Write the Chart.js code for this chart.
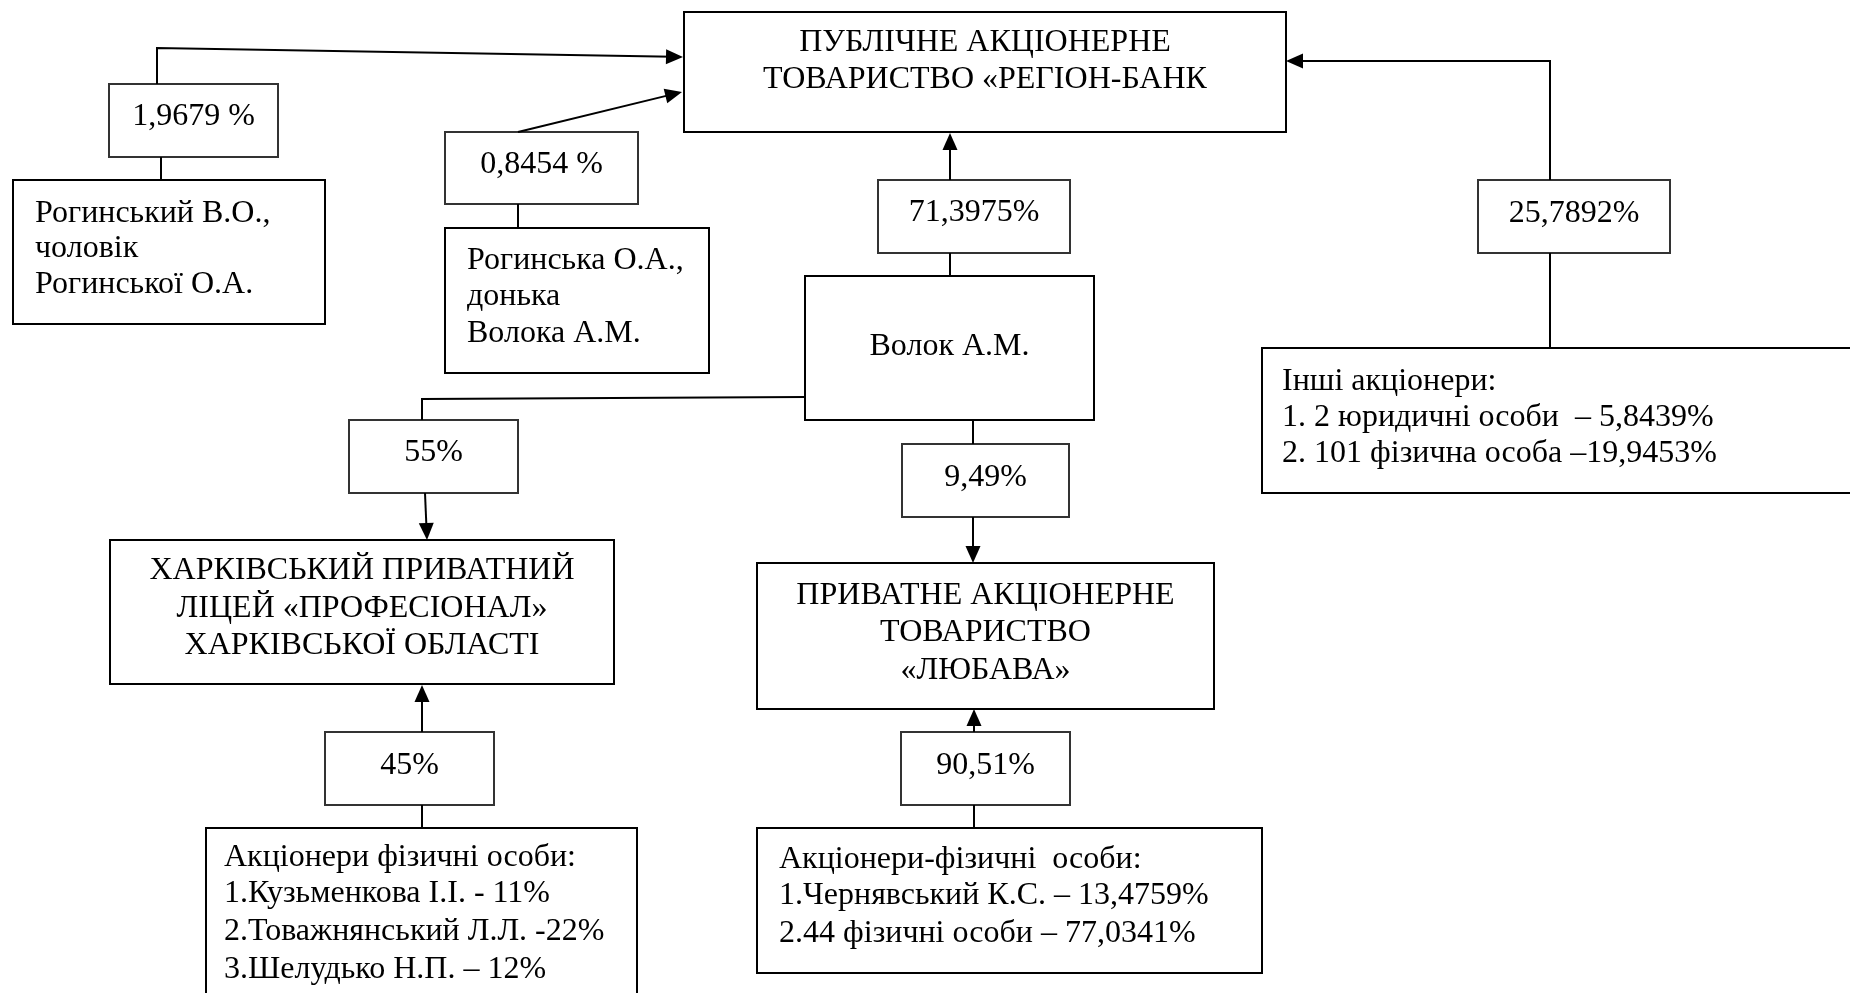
<!DOCTYPE html>
<html>
<head>
<meta charset="utf-8">
<script src="https://cdn.jsdelivr.net/npm/chart.js@4/dist/chart.umd.min.js"></script>
<style>
html,body{margin:0;padding:0;background:#fff;}
#wrap{width:1850px;height:993px;position:relative;}
</style>
</head>
<body>
<div id="wrap"><canvas id="c"></canvas></div>
<script>
// ---- content (text values) ----
const bankName = ['ПУБЛІЧНЕ АКЦІОНЕРНЕ', 'ТОВАРИСТВО «РЕГІОН-БАНК'];
const husbandName = ['Рогинський В.О.,', 'чоловік', 'Рогинської О.А.'];
const daughterName = ['Рогинська О.А.,', 'донька', 'Волока А.М.'];
const ownerName = ['Волок А.М.'];
const otherHolders = ['Інші акціонери:', '1. 2 юридичні особи  – 5,8439%', '2. 101 фізична особа –19,9453%'];
const lyceumName = ['ХАРКІВСЬКИЙ ПРИВАТНИЙ', 'ЛІЦЕЙ «ПРОФЕСІОНАЛ»', 'ХАРКІВСЬКОЇ ОБЛАСТІ'];
const lyubavaName = ['ПРИВАТНЕ АКЦІОНЕРНЕ', 'ТОВАРИСТВО', '«ЛЮБАВА»'];
const lyceumHolders = ['Акціонери фізичні особи:', '1.Кузьменкова І.І. - 11%', '2.Товажнянський Л.Л. -22%', '3.Шелудько Н.П. – 12%'];
const lyubavaHolders = ['Акціонери-фізичні  особи:', '1.Чернявський К.С. – 13,4759%', '2.44 фізичні особи – 77,0341%'];
const stakeLabels = ['1,9679 %', '0,8454 %', '71,3975%', '25,7892%', '55%', '9,49%', '45%', '90,51%'];

// ---- layout (diagram coordinates, mapped through the chart scales) ----
const entityLayout = [
  {lines: bankName,       r: [684, 12, 1286, 132],  align: 'center', ty: [43, 80]},
  {lines: husbandName,    r: [13, 180, 325, 324],   align: 'left', tx: 35,  ty: [214, 249, 285]},
  {lines: daughterName,   r: [445, 228, 709, 373],  align: 'left', tx: 467, ty: [261, 297, 334]},
  {lines: ownerName,      r: [805, 276, 1094, 420], align: 'center', ty: [347]},
  {lines: otherHolders,   r: [1262, 348, 1870, 493], align: 'left', tx: 1282, ty: [382, 418, 454]},
  {lines: lyceumName,     r: [110, 540, 614, 684],  align: 'center', ty: [571, 609, 646]},
  {lines: lyubavaName,    r: [757, 563, 1214, 709], align: 'center', ty: [596, 633, 671]},
  {lines: lyceumHolders,  r: [206, 828, 637, 1010], align: 'left', tx: 224, ty: [858, 894, 932, 970]},
  {lines: lyubavaHolders, r: [757, 828, 1262, 973], align: 'left', tx: 779, ty: [860, 896, 934]}
];
const stakeLayout = [
  {r: [109, 84, 278, 157],   ty: 117},
  {r: [445, 132, 638, 204],  ty: 165},
  {r: [878, 180, 1070, 253], ty: 213},
  {r: [1478, 180, 1670, 253], ty: 214},
  {r: [349, 420, 518, 493],  ty: 453},
  {r: [902, 444, 1069, 517], ty: 478},
  {r: [325, 732, 494, 805],  ty: 766},
  {r: [901, 732, 1070, 805], ty: 766}
];
const connectors = [
  {pts: [[157, 84], [157, 48], [683, 57]], arrow: true},
  {pts: [[518, 132], [682, 92]], arrow: true},
  {pts: [[161, 157], [161, 180]], arrow: false},
  {pts: [[518, 204], [518, 228]], arrow: false},
  {pts: [[950, 180], [950, 133]], arrow: true},
  {pts: [[950, 253], [950, 276]], arrow: false},
  {pts: [[1550, 180], [1550, 61], [1286, 61]], arrow: true},
  {pts: [[1550, 253], [1550, 348]], arrow: false},
  {pts: [[805, 397], [422, 399], [422, 420]], arrow: false},
  {pts: [[425, 493], [427, 540]], arrow: true},
  {pts: [[973, 420], [973, 444]], arrow: false},
  {pts: [[973, 517], [973, 563]], arrow: true},
  {pts: [[422, 732], [422, 685]], arrow: true},
  {pts: [[422, 805], [422, 828]], arrow: false},
  {pts: [[974, 732], [974, 709]], arrow: true},
  {pts: [[974, 805], [974, 828]], arrow: false}
];

const FONT = '32px "Liberation Serif", "Times New Roman", serif';

const diagramPlugin = {
  id: 'diagram',
  beforeDatasetsDraw(chart) {
    const ctx = chart.ctx, xs = chart.scales.x, ys = chart.scales.y;
    const X = v => xs.getPixelForValue(v), Y = v => ys.getPixelForValue(v);
    ctx.save();
    const drawBox = (r, color) => {
      const x0 = X(r[0]), y0 = Y(r[1]), x1 = X(r[2]), y1 = Y(r[3]);
      ctx.fillStyle = '#fff';
      ctx.fillRect(x0, y0, x1 - x0, y1 - y0);
      ctx.strokeStyle = color;
      ctx.lineWidth = 2;
      ctx.strokeRect(x0, y0, x1 - x0, y1 - y0);
    };
    ctx.font = FONT;
    ctx.textBaseline = 'middle';
    entityLayout.forEach(e => {
      drawBox(e.r, '#000');
      ctx.fillStyle = '#000';
      e.lines.forEach((t, i) => {
        if (e.align === 'center') {
          ctx.textAlign = 'center';
          ctx.fillText(t, X((e.r[0] + e.r[2]) / 2), Y(e.ty[i]));
        } else {
          ctx.textAlign = 'left';
          ctx.fillText(t, X(e.tx), Y(e.ty[i]));
        }
      });
    });
    stakeLayout.forEach((s, i) => {
      drawBox(s.r, '#333');
      ctx.fillStyle = '#000';
      ctx.textAlign = 'center';
      ctx.fillText(stakeLabels[i], X((s.r[0] + s.r[2]) / 2), Y(s.ty));
    });
    ctx.restore();
  },
  afterDatasetsDraw(chart) {
    const ctx = chart.ctx, xs = chart.scales.x, ys = chart.scales.y;
    ctx.save();
    ctx.fillStyle = '#000';
    connectors.forEach(c => {
      if (!c.arrow) return;
      const n = c.pts.length;
      const tx = xs.getPixelForValue(c.pts[n - 1][0]), ty = ys.getPixelForValue(c.pts[n - 1][1]);
      const px = xs.getPixelForValue(c.pts[n - 2][0]), py = ys.getPixelForValue(c.pts[n - 2][1]);
      const dx = tx - px, dy = ty - py, len = Math.hypot(dx, dy);
      const ux = dx / len, uy = dy / len, L = 17, W = 7.5;
      const bx = tx - ux * L, by = ty - uy * L;
      ctx.beginPath();
      ctx.moveTo(tx, ty);
      ctx.lineTo(bx - uy * W, by + ux * W);
      ctx.lineTo(bx + uy * W, by - ux * W);
      ctx.closePath();
      ctx.fill();
    });
    ctx.restore();
  }
};

const datasets = connectors.map(c => {
  const pts = c.pts.map(p => ({x: p[0], y: p[1]}));
  if (c.arrow) {
    const n = pts.length, a = pts[n - 2], b = pts[n - 1];
    const dx = b.x - a.x, dy = b.y - a.y, len = Math.hypot(dx, dy);
    pts[n - 1] = {x: b.x - dx / len * 10, y: b.y - dy / len * 10};
  }
  return {
    data: pts, showLine: true, borderColor: '#000', borderWidth: 2,
    pointRadius: 0, pointHoverRadius: 0, tension: 0, fill: false, clip: false,
    borderCapStyle: 'butt', borderJoinStyle: 'miter'
  };
});

new Chart(document.getElementById('c'), {
  type: 'scatter',
  data: {datasets},
  options: {
    responsive: true,
    maintainAspectRatio: false,
    animation: false,
    events: [],
    layout: {padding: 0},
    plugins: {legend: {display: false}, tooltip: {enabled: false}, title: {display: false}},
    scales: {
      x: {type: 'linear', min: 0, max: 1850, display: false},
      y: {type: 'linear', min: 0, max: 993, reverse: true, display: false}
    }
  },
  plugins: [diagramPlugin]
});
</script>
</body>
</html>
